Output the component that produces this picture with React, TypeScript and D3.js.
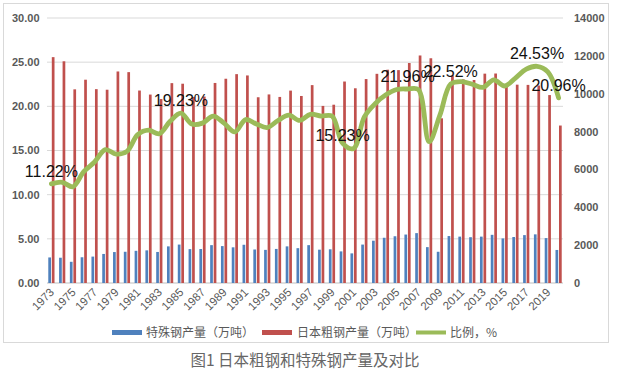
import * as d3 from 'd3';

// categories
const years = [
  1973, 1974, 1975, 1976, 1977, 1978, 1979, 1980, 1981, 1982, 1983, 1984,
  1985, 1986, 1987, 1988, 1989, 1990, 1991, 1992, 1993, 1994, 1995, 1996,
  1997, 1998, 1999, 2000, 2001, 2002, 2003, 2004, 2005, 2006, 2007, 2008,
  2009, 2010, 2011, 2012, 2013, 2014, 2015, 2016, 2017, 2018, 2019, 2020,
];

// 特殊钢产量（万吨）
const specialSteel = [
  1350, 1335, 1120, 1360, 1395, 1535, 1635, 1650, 1700, 1725, 1640, 1935,
  2030, 1790, 1795, 2000, 1950, 1885, 2020, 1770, 1750, 1800, 1935, 1840,
  2000, 1760, 1780, 1670, 1565, 2030, 2235, 2390, 2470, 2560, 2635, 1895,
  1650, 2480, 2450, 2420, 2450, 2545, 2355, 2430, 2530, 2570, 2372, 1745,
];

// 日本粗钢产量（万吨）
const crudeSteel = [
  11932, 11713, 10231, 10740, 10241, 10211, 11175, 11140, 10168, 9955, 9718, 10559,
  10528, 9828, 9851, 10568, 10791, 11034, 10965, 9813, 9962, 9830, 10164, 9880,
  10454, 9355, 9419, 10644, 10287, 10774, 11051, 11268, 11247, 11622, 12020, 11873,
  8700, 10960, 10760, 10723, 11060, 11067, 10513, 10478, 10466, 10433, 9928, 8319,
];

// 比例，%
const ratio = [
  11.22, 11.4, 10.9, 12.6, 13.7, 15.1, 14.6, 14.9, 16.8, 17.3, 16.9, 18.3,
  19.23, 18.0, 18.1, 18.9, 18.1, 17.1, 18.5, 18.0, 17.6, 18.4, 19.0, 18.4,
  19.1, 18.9, 18.9, 15.8, 15.23, 18.8, 20.3, 21.3, 21.9, 21.96, 21.9, 16.0,
  19.0, 22.52, 22.8, 22.5, 22.15, 23.0, 22.3, 23.2, 24.2, 24.53, 23.9, 20.96,
];

const labelYears = [1973, 1985, 2001, 2006, 2010, 2018, 2020];

const xTickLabels = [
  '1973', '1975', '1977', '1979', '1981', '1983', '1985', '1987', '1989', '1991',
  '1993', '1995', '1997', '1999', '2001', '2003', '2005', '2007', '2009', '2011',
  '2013', '2015', '2017', '2019',
];

const leftTicks = [0, 5, 10, 15, 20, 25, 30];
const rightTicks = [0, 2000, 4000, 6000, 8000, 10000, 12000, 14000];

const seriesNames = ['特殊钢产量（万吨）', '日本粗钢产量（万吨）', '比例，%'];

const BLUE = '#4F81BD';
const RED = '#C0504D';
const GREEN = '#9BBB59';
const AXIS_TEXT = '#595959';

export default function App() {
  const width = 635;
  const height = 371;
  const left = 46;
  const right = 564;
  const top = 18;
  const bottom = 283;

  const x = d3.scaleBand<string>().domain(years.map(String)).range([left, right]);
  const xs = d3
    .scaleBand<string>()
    .domain(['special', 'crude'])
    .range([0, x.bandwidth()])
    .paddingInner(0.23)
    .paddingOuter(0.65);
  const yL = d3.scaleLinear().domain([0, 30]).range([bottom, top]);
  const yR = d3.scaleLinear().domain([0, 14000]).range([bottom, top]);

  const cx = (yr: number) => (x(String(yr)) as number) + x.bandwidth() / 2;

  const line = d3
    .line<number>()
    .x((_, i) => cx(years[i]))
    .y((d) => yL(d))
    .curve(d3.curveCatmullRom.alpha(0.5));

  // small manual nudges for some data labels
  const labelDx: Record<number, number> = { 2001: -11 };

  const legendItems = [
    { name: seriesNames[0], color: BLUE, sx: 112, tx: 146, h: 5 },
    { name: seriesNames[1], color: RED, sx: 262, tx: 297, h: 5 },
    { name: seriesNames[2], color: GREEN, sx: 416, tx: 450, h: 4 },
  ];

  return (
    <div style={{ position: 'fixed', left: 0, top: 0 }}>
      <svg width={width} height={height} style={{ display: 'block', background: '#fff' }}>
        <rect x={3.5} y={3.5} width={605} height={339} fill="#fff" stroke="#d9d9d9" />

        {/* gridlines */}
        {leftTicks.map((t) => (
          <line
            key={t}
            x1={left + 1}
            x2={right - 1}
            y1={yL(t)}
            y2={yL(t)}
            stroke={t === 0 ? '#bfbfbf' : '#d9d9d9'}
            strokeWidth={1}
          />
        ))}

        {/* left axis */}
        {leftTicks.map((t) => (
          <text
            key={t}
            x={39.5}
            y={yL(t)}
            dy="0.36em"
            textAnchor="end"
            fontFamily="'Liberation Sans', Arial, sans-serif"
            fontWeight="bold"
            fontSize={11}
            fill={AXIS_TEXT}
          >
            {t.toFixed(2)}
          </text>
        ))}

        {/* right axis */}
        {rightTicks.map((t) => (
          <text
            key={t}
            x={574}
            y={yR(t)}
            dy="0.36em"
            textAnchor="start"
            fontFamily="'Liberation Sans', Arial, sans-serif"
            fontWeight="bold"
            fontSize={11}
            fill={AXIS_TEXT}
          >
            {t}
          </text>
        ))}

        {/* bars */}
        {years.map((yr, i) => (
          <g key={yr} transform={`translate(${x(String(yr))},0)`}>
            <rect
              x={xs('special')}
              y={yR(specialSteel[i])}
              width={xs.bandwidth()}
              height={bottom - yR(specialSteel[i])}
              fill={BLUE}
            />
            <rect
              x={xs('crude')}
              y={yR(crudeSteel[i])}
              width={xs.bandwidth()}
              height={bottom - yR(crudeSteel[i])}
              fill={RED}
            />
          </g>
        ))}

        {/* ratio line */}
        <path
          d={line(ratio) ?? ''}
          fill="none"
          stroke={GREEN}
          strokeWidth={4.8}
          strokeLinejoin="round"
          strokeLinecap="round"
        />

        {/* data labels */}
        {labelYears.map((yr) => {
          const i = years.indexOf(yr);
          return (
            <text
              key={yr}
              x={cx(yr) + (labelDx[yr] ?? 0)}
              y={yL(ratio[i]) - 7}
              textAnchor="middle"
              fontFamily="'Liberation Sans', Arial, sans-serif"
              fontSize={16}
              fill="#111"
            >
              {ratio[i].toFixed(2)}%
            </text>
          );
        })}

        {/* x tick labels */}
        {xTickLabels.map((lab) => (
          <text
            key={lab}
            transform={`translate(${cx(Number(lab)) + 3.5},293) rotate(-45)`}
            textAnchor="end"
            fontFamily="'Liberation Sans', Arial, sans-serif"
            fontSize={11.5}
            fill={AXIS_TEXT}
          >
            {lab}
          </text>
        ))}

        {/* legend */}
        {legendItems.map((it) => (
          <g key={it.name}>
            <rect x={it.sx} y={332.5 - it.h / 2} width={30} height={it.h} fill={it.color} />
            <text
              x={it.tx}
              y={337}
              fontFamily="'Noto Sans CJK SC', sans-serif"
              fontSize={12}
              fill={AXIS_TEXT}
            >
              {it.name}
            </text>
          </g>
        ))}

        {/* caption */}
        <text
          x={305}
          y={366}
          textAnchor="middle"
          fontFamily="'Noto Sans CJK SC', sans-serif"
          fontSize={15.5}
          fill="#666"
        >
          图1 日本粗钢和特殊钢产量及对比
        </text>
      </svg>
    </div>
  );
}
